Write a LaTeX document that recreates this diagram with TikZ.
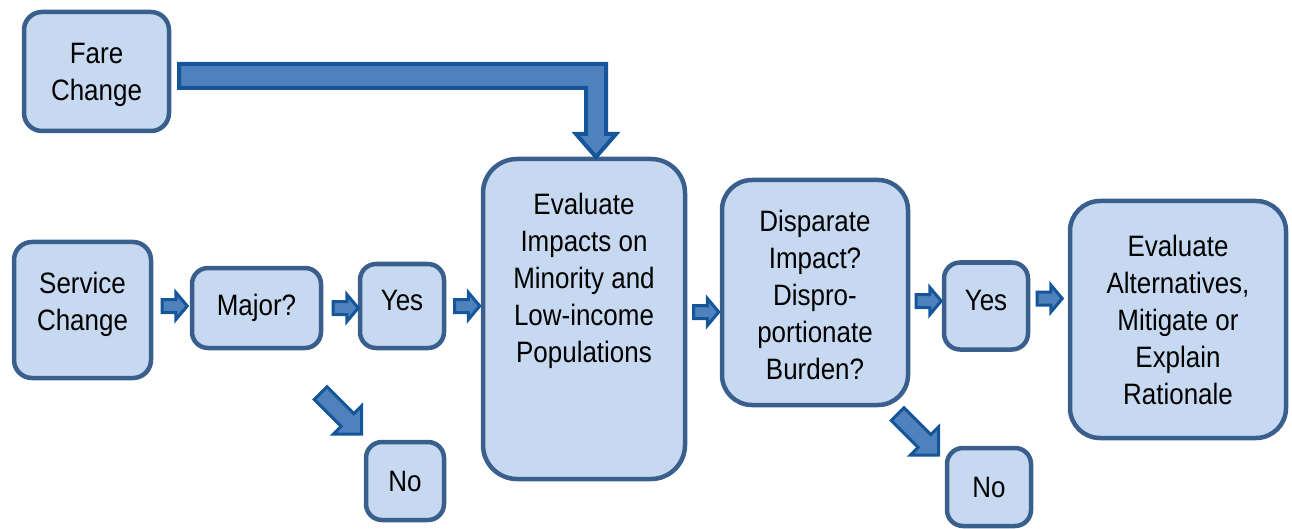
\documentclass[tikz,border=0pt]{standalone}
\usepackage{fontspec}
\setmainfont{Liberation Sans}[FakeStretch=0.88]
\usetikzlibrary{shapes.arrows}
\definecolor{boxfill}{HTML}{C6D9F1}
\definecolor{boxline}{HTML}{3A5F8C}
\definecolor{arrfill}{HTML}{4F81BD}
\definecolor{arrline}{HTML}{15569B}
\newcommand{\tx}[2]{\raisebox{#1pt}[0pt][0pt]{\begin{tabular}{@{}c@{}}#2\end{tabular}}}
\begin{document}
\begin{tikzpicture}[x=1pt,y=-1pt,font=\fontsize{29.5}{37}\selectfont,
  box/.style={draw=boxline, fill=boxfill, line width=4.5pt, rounded corners=16pt, inner sep=0pt, align=center},
  sarrow/.style={single arrow, draw=arrline, fill=arrfill, line width=3pt, inner sep=0pt, inner ysep=5pt,
     single arrow head extend=7pt, minimum height=25pt, single arrow tip angle=100, single arrow head indent=0pt},
  darrow/.style={sarrow, inner ysep=7.5pt, single arrow head extend=11pt, minimum height=58pt, single arrow tip angle=90}]
\useasboundingbox (0,0) rectangle (1292,529);

\node[box, minimum width=145pt, minimum height=119pt, rounded corners=18pt] (fare) at (96.5,71.5) {\tx{-9.4}{Fare\\Change}};
\node[box, minimum width=137pt, minimum height=136pt, rounded corners=18pt] (service) at (82.5,310) {\tx{-0.9}{Service\\Change}};
\node[box, minimum width=129pt, minimum height=80pt] (major) at (256.5,308) {\tx{-6.4}{Major?}};
\node[box, minimum width=84pt, minimum height=84pt] (yes1) at (402,306) {\tx{-3.4}{Yes}};
\node[box, minimum width=78pt, minimum height=78pt] (no1) at (405,481) {\tx{-9.4}{No}};
\node[box, minimum width=202pt, minimum height=320pt, rounded corners=34pt] (impacts) at (584,319) {\tx{31.6}{Evaluate\\Impacts on\\Minority and\\Low-income\\Populations}};
\node[box, minimum width=186pt, minimum height=225pt, rounded corners=30pt] (disp) at (815,292.5) {\tx{-11.9}{Disparate\\Impact?\\Dispro-\\portionate\\Burden?}};
\node[box, minimum width=84pt, minimum height=87pt] (yes2) at (986,306) {\tx{-3.4}{Yes}};
\node[box, minimum width=84pt, minimum height=78pt] (no2) at (989,487) {\tx{-9.4}{No}};
\node[box, minimum width=216pt, minimum height=237pt, rounded corners=30pt] (alt) at (1178,319.5) {\tx{-9.4}{Evaluate\\Alternatives,\\Mitigate or\\Explain\\Rationale}};

% bent block arrow from Fare Change to Evaluate Impacts
\draw[draw=arrline, fill=arrfill, line width=4pt, line join=miter]
  (179,64) -- (606,64) -- (606,134) -- (616,134) -- (596,157) -- (576,134) -- (586,134) -- (586,88) -- (179,88) -- cycle;

\node[sarrow] (a1) at (172,306) {};
\node[sarrow] (a2) at (343,308) {};
\node[sarrow] (a3) at (464.5,306) {};
\node[sarrow] (a4) at (703.5,312) {};
\node[sarrow] (a5) at (926,301) {};
\node[sarrow] (a6) at (1047,298.5) {};
\node[darrow, rotate=-45] (d1) at (338,410.5) {};
\node[darrow, rotate=-45] (d2) at (915,431.5) {};
\end{tikzpicture}
\end{document}
